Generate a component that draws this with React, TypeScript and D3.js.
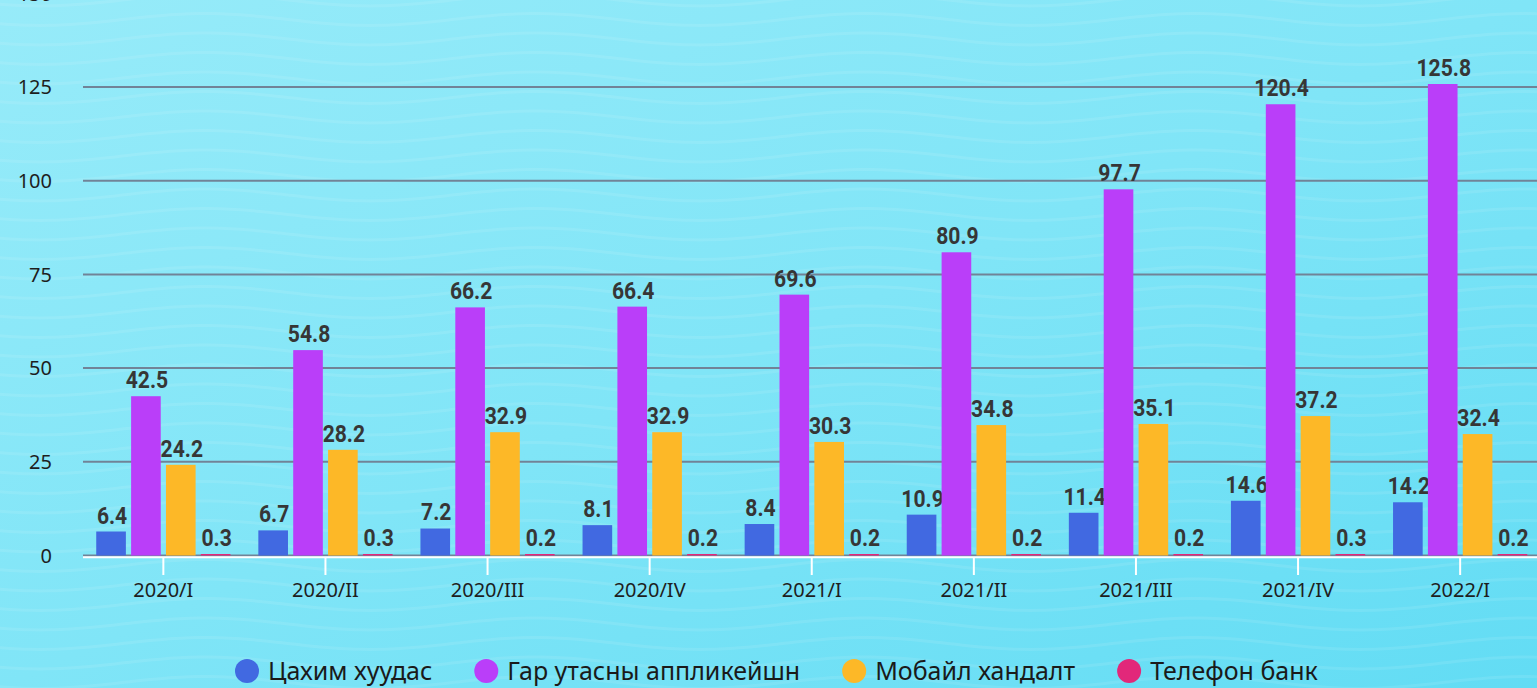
import React from 'react';
import * as d3 from 'd3';

const categories = ['2020/I', '2020/II', '2020/III', '2020/IV', '2021/I', '2021/II', '2021/III', '2021/IV', '2022/I'];
const seriesNames = ['Цахим хуудас', 'Гар утасны аппликейшн', 'Мобайл хандалт', 'Телефон банк'];
const webValues = [6.4, 6.7, 7.2, 8.1, 8.4, 10.9, 11.4, 14.6, 14.2];
const appValues = [42.5, 54.8, 66.2, 66.4, 69.6, 80.9, 97.7, 120.4, 125.8];
const mobileValues = [24.2, 28.2, 32.9, 32.9, 30.3, 34.8, 35.1, 37.2, 32.4];
const phoneValues = [0.3, 0.3, 0.2, 0.2, 0.2, 0.2, 0.2, 0.3, 0.2];
const yTicks = [0, 25, 50, 75, 100, 125, 150];
const colors = ['#4169E1', '#BA3EF9', '#FDB827', '#E2287A'];

const W = 1537;
const H = 688;

function measure(text: string, font: string): number {
  const c = document.createElement('canvas');
  const ctx = c.getContext('2d')!;
  ctx.font = font;
  return ctx.measureText(text).width;
}

export default function App() {
  const series = [webValues, appValues, mobileValues, phoneValues];
  const x0 = d3.scaleBand<string>().domain(categories).range([82.3, 82.3 + 9 * 162.1]).paddingInner(0).paddingOuter(0);
  const x1 = d3.scaleBand<number>().domain([0, 1, 2, 3]).range([0, x0.bandwidth()]).paddingInner(0.15).paddingOuter(0.4);
  const y = d3.scaleLinear().domain([0, 150]).range([555.5, -6.7]);

  const waves: string[] = [];
  const line = d3.line<[number, number]>().curve(d3.curveBasis);
  for (let k = -2; k < 40; k++) {
    const base = k * 19.5;
    const pts: [number, number][] = [];
    for (let xx = -40; xx <= W + 40; xx += 10) {
      pts.push([xx, base + 6 * Math.sin((xx / 330) * 2 * Math.PI + 0.8)]);
    }
    waves.push(line(pts) || '');
  }

  const legendFont = "25px 'Noto Sans'";
  let lx = 247;
  const legendItems = seriesNames.map((name, i) => {
    const item = { name, cx: lx, tx: lx + 21, color: colors[i] };
    lx = lx + 21 + measure(name, legendFont) + 54;
    return item;
  });

  const sx = 0.88;

  return (
    <svg width={W} height={H} style={{ position: 'absolute', left: 0, top: 0, display: 'block' }}>
      <defs>
        <linearGradient id="bg" x1="0" y1="0" x2="1" y2="1">
          <stop offset="0%" stopColor="#97EBF9" />
          <stop offset="50%" stopColor="#80E5F7" />
          <stop offset="100%" stopColor="#62DCF4" />
        </linearGradient>
      </defs>
      <rect x={0} y={0} width={W} height={H} fill="url(#bg)" />
      <g>
        {waves.map((d, i) => (
          <path key={i} d={d} fill="none" stroke="#ffffff" strokeOpacity={0.09} strokeWidth={3} />
        ))}
      </g>
      {/* gridlines */}
      <g>
        {yTicks.map((t) => (
          <g key={t}>
            <line x1={83} x2={W} y1={y(t)} y2={y(t)} stroke="#718397" strokeWidth={2} />
            <text x={52} y={y(t)} dy="0.36em" textAnchor="end" fontFamily="'Noto Sans'" fontSize={20} fill="#1e1e1e">
              {t}
            </text>
          </g>
        ))}
      </g>
      {/* bars */}
      <g>
        {categories.map((c, ci) => (
          <g key={c} transform={`translate(${x0(c)},0)`}>
            {series.map((vals, si) => {
              const v = vals[ci];
              const bx = x1(si)!;
              const top = y(v);
              const h = Math.max(y(0) - top, 1.5);
              return (
                <g key={si}>
                  <rect x={bx} y={y(0) - h} width={x1.bandwidth()} height={h} fill={colors[si]} />
                  <text
                    transform={`scale(${sx},1)`}
                    x={(bx + x1.bandwidth() / 2 + 1) / sx}
                    y={Math.min(top, y(0) - 1.5) - 8}
                    textAnchor="middle"
                    fontFamily="Roboto"
                    fontWeight={700}
                    fontSize={24}
                    fill="#363636"
                  >
                    {d3.format('.1f')(v)}
                  </text>
                </g>
              );
            })}
          </g>
        ))}
      </g>
      {/* x axis */}
      <line x1={83} x2={W} y1={557.3} y2={557.3} stroke="#ffffff" strokeWidth={2} />
      <g>
        {categories.map((c) => {
          const cx = x0(c)! + x0.bandwidth() / 2;
          return (
            <g key={c}>
              <line x1={cx} x2={cx} y1={557} y2={575} stroke="#ffffff" strokeWidth={2} />
              <text x={cx} y={597} textAnchor="middle" fontFamily="'Noto Sans'" fontSize={20} fill="#1e1e1e">
                {c}
              </text>
            </g>
          );
        })}
      </g>
      {/* legend */}
      <g>
        {legendItems.map((it) => (
          <g key={it.name}>
            <circle cx={it.cx} cy={671} r={12} fill={it.color} />
            <text x={it.tx} y={671} dy="0.36em" fontFamily="'Noto Sans'" fontSize={25} fill="#1a1a1a">
              {it.name}
            </text>
          </g>
        ))}
      </g>
    </svg>
  );
}
